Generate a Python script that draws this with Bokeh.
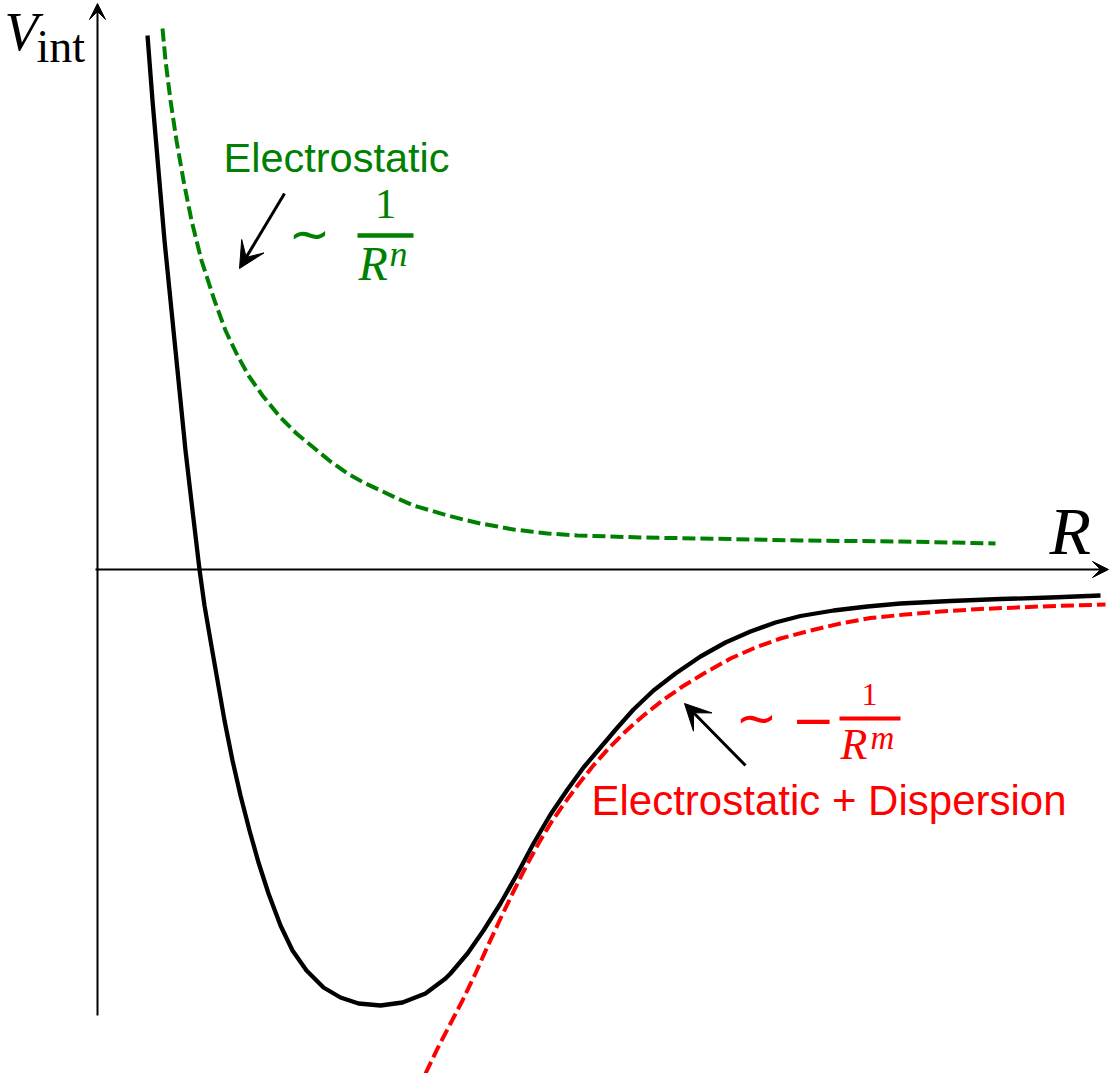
from bokeh.plotting import figure
from bokeh.models import Arrow, VeeHead, Range1d
from bokeh.core.properties import value
from bokeh.embed import file_html
from bokeh.resources import INLINE

# ---- data (R = separation, V = interaction energy; schematic units, origin at axes crossing) ----
total_R = [50, 55, 61, 67, 74, 81, 88, 95, 102, 107, 113, 120, 127, 135, 143, 152, 161, 171,
           183, 195, 209, 226, 243, 261, 283, 305, 328, 348, 353, 370, 386, 403, 420, 436, 453,
           470, 486, 503, 520, 536, 556, 578, 603, 628, 653, 678, 703, 736, 770, 803, 853, 903,
           953, 1003]
total_V = [534, 469, 399, 329, 259, 189, 119, 59, 0, -36, -71, -111, -151, -191, -226, -261,
           -293, -324, -356, -381, -401, -418, -428, -434, -436, -433, -424, -409, -404, -384,
           -361, -334, -304, -274, -245, -220, -198, -178, -158, -140, -121, -104, -87, -73,
           -62, -53, -46.5, -41, -37, -34, -31.5, -29.5, -28, -26]

elec_R = [65, 68, 73, 79, 86, 94, 104, 117, 128, 140, 151, 165, 183, 199, 216, 233, 250, 266,
          283, 300, 316, 333, 350, 366, 383, 400, 416, 433, 450, 480, 513, 543, 603, 703, 803,
          898]
elec_V = [541, 509, 469, 429, 389, 349, 309, 269, 239, 214, 194, 174, 152, 136, 122, 108, 96,
          87, 79, 71, 64, 59, 54, 50, 46, 43, 40, 38, 36, 34, 33, 32, 31, 29, 28, 26]

disp_R = [328, 340, 353, 365, 378, 390, 403, 415, 428, 441, 453, 466, 480, 495, 511, 528, 546,
          565, 585, 608, 633, 658, 683, 713, 743, 773, 808, 843, 883, 943, 1008]
disp_V = [-504, -479, -454, -431, -404, -377, -349, -324, -298, -274, -254, -235, -216, -197,
          -179, -162, -146, -131, -117, -103, -89, -78, -69, -61, -54, -48.5, -45, -42, -39.5,
          -37, -35]

GREEN = "#008000"
RED = "#ff0000"

# layout helpers: reference pixel -> data coordinates
def X(px):
    return px - 97

def Y(py):
    return 569 - py

W, H = 1110, 1073
p = figure(width=W, height=H, output_backend="svg", toolbar_location=None,
           x_range=Range1d(X(0), X(W)), y_range=Range1d(Y(H), Y(0)),
           x_axis_location=None, y_axis_location=None, min_border=0,
           min_border_left=0, min_border_right=0, min_border_top=0, min_border_bottom=0)
p.outline_line_color = None
p.grid.visible = False
p.background_fill_color = "white"
p.border_fill_color = "white"

# axes with arrows
p.add_layout(Arrow(end=VeeHead(size=16, fill_color="black", line_color="black", line_width=1),
                   x_start=X(97), y_start=Y(1015), x_end=X(97), y_end=Y(3),
                   line_width=2, line_color="black"))
p.add_layout(Arrow(end=VeeHead(size=16, fill_color="black", line_color="black", line_width=1),
                   x_start=X(95), y_start=Y(569), x_end=X(1108), y_end=Y(569),
                   line_width=2, line_color="black"))

# curves
p.line(elec_R, elec_V, line_color=GREEN, line_width=4, line_dash="13 5")
p.line(disp_R, disp_V, line_color=RED, line_width=4, line_dash="13 5")
p.line(total_R, total_V, line_color="black", line_width=4.3, line_join="round")

# annotation arrows
p.add_layout(Arrow(end=VeeHead(size=26, fill_color="black", line_color="black", line_width=1),
                   x_start=X(284), y_start=Y(193), x_end=X(239), y_end=Y(268),
                   line_width=3, line_color="black"))
p.add_layout(Arrow(end=VeeHead(size=26, fill_color="black", line_color="black", line_width=1),
                   x_start=X(745), y_start=Y(765), x_end=X(684), y_end=Y(703),
                   line_width=3, line_color="black"))

SERIF = value("Liberation Serif")
SANS = value("Liberation Sans")
MATH = value("DejaVu Sans")

def txt(px, py, s, size, color="black", font=SERIF, style="normal", align="left", shift=0.355):
    # py is the wanted baseline (reference pixel); compensate the renderer's baseline offset
    p.text(x=[X(px)], y=[Y(py - shift * size)], text=[s], text_font=font,
           text_font_size=f"{size}px", text_font_style=style, text_color=color,
           text_align=align, text_baseline="alphabetic")

def op(px, pc, s, size, color):
    # math operator placed by its vertical centre pc
    p.text(x=[X(px)], y=[Y(pc)], text=[s], text_font=MATH, text_font_size=f"{size}px",
           text_color=color, text_align="left", text_baseline="alphabetic")

# axis labels
txt(4, 51, "V", 55, style="italic")
txt(36, 62, "int", 46)
txt(1049, 555, "R", 68, style="italic")

# green label
txt(223, 172, "Electrostatic", 41.5, color=GREEN, font=SANS)
op(288, 233, "\u223c", 50, GREEN)
txt(385, 219, "1", 43, color=GREEN, align="center")
p.segment(x0=[X(357)], y0=[Y(235)], x1=[X(413)], y1=[Y(235)], line_color=GREEN, line_width=4.5)
txt(358, 280, "R", 48, color=GREEN, style="italic")
txt(389, 266, "n", 36, color=GREEN, style="italic")

# red label
txt(591, 815, "Electrostatic + Dispersion", 42, color=RED, font=SANS)
op(735, 717, "\u223c", 50, RED)
op(791, 718, "\u2212", 52, RED)
p.segment(x0=[X(839)], y0=[Y(718)], x1=[X(900)], y1=[Y(718)], line_color=RED, line_width=4)
txt(869, 705, "1", 32, color=RED, align="center")
txt(840, 760, "R", 44, color=RED, style="italic")
txt(870, 749, "m", 33, color=RED, style="italic")

open("out.html", "w").write(file_html(p, INLINE))
